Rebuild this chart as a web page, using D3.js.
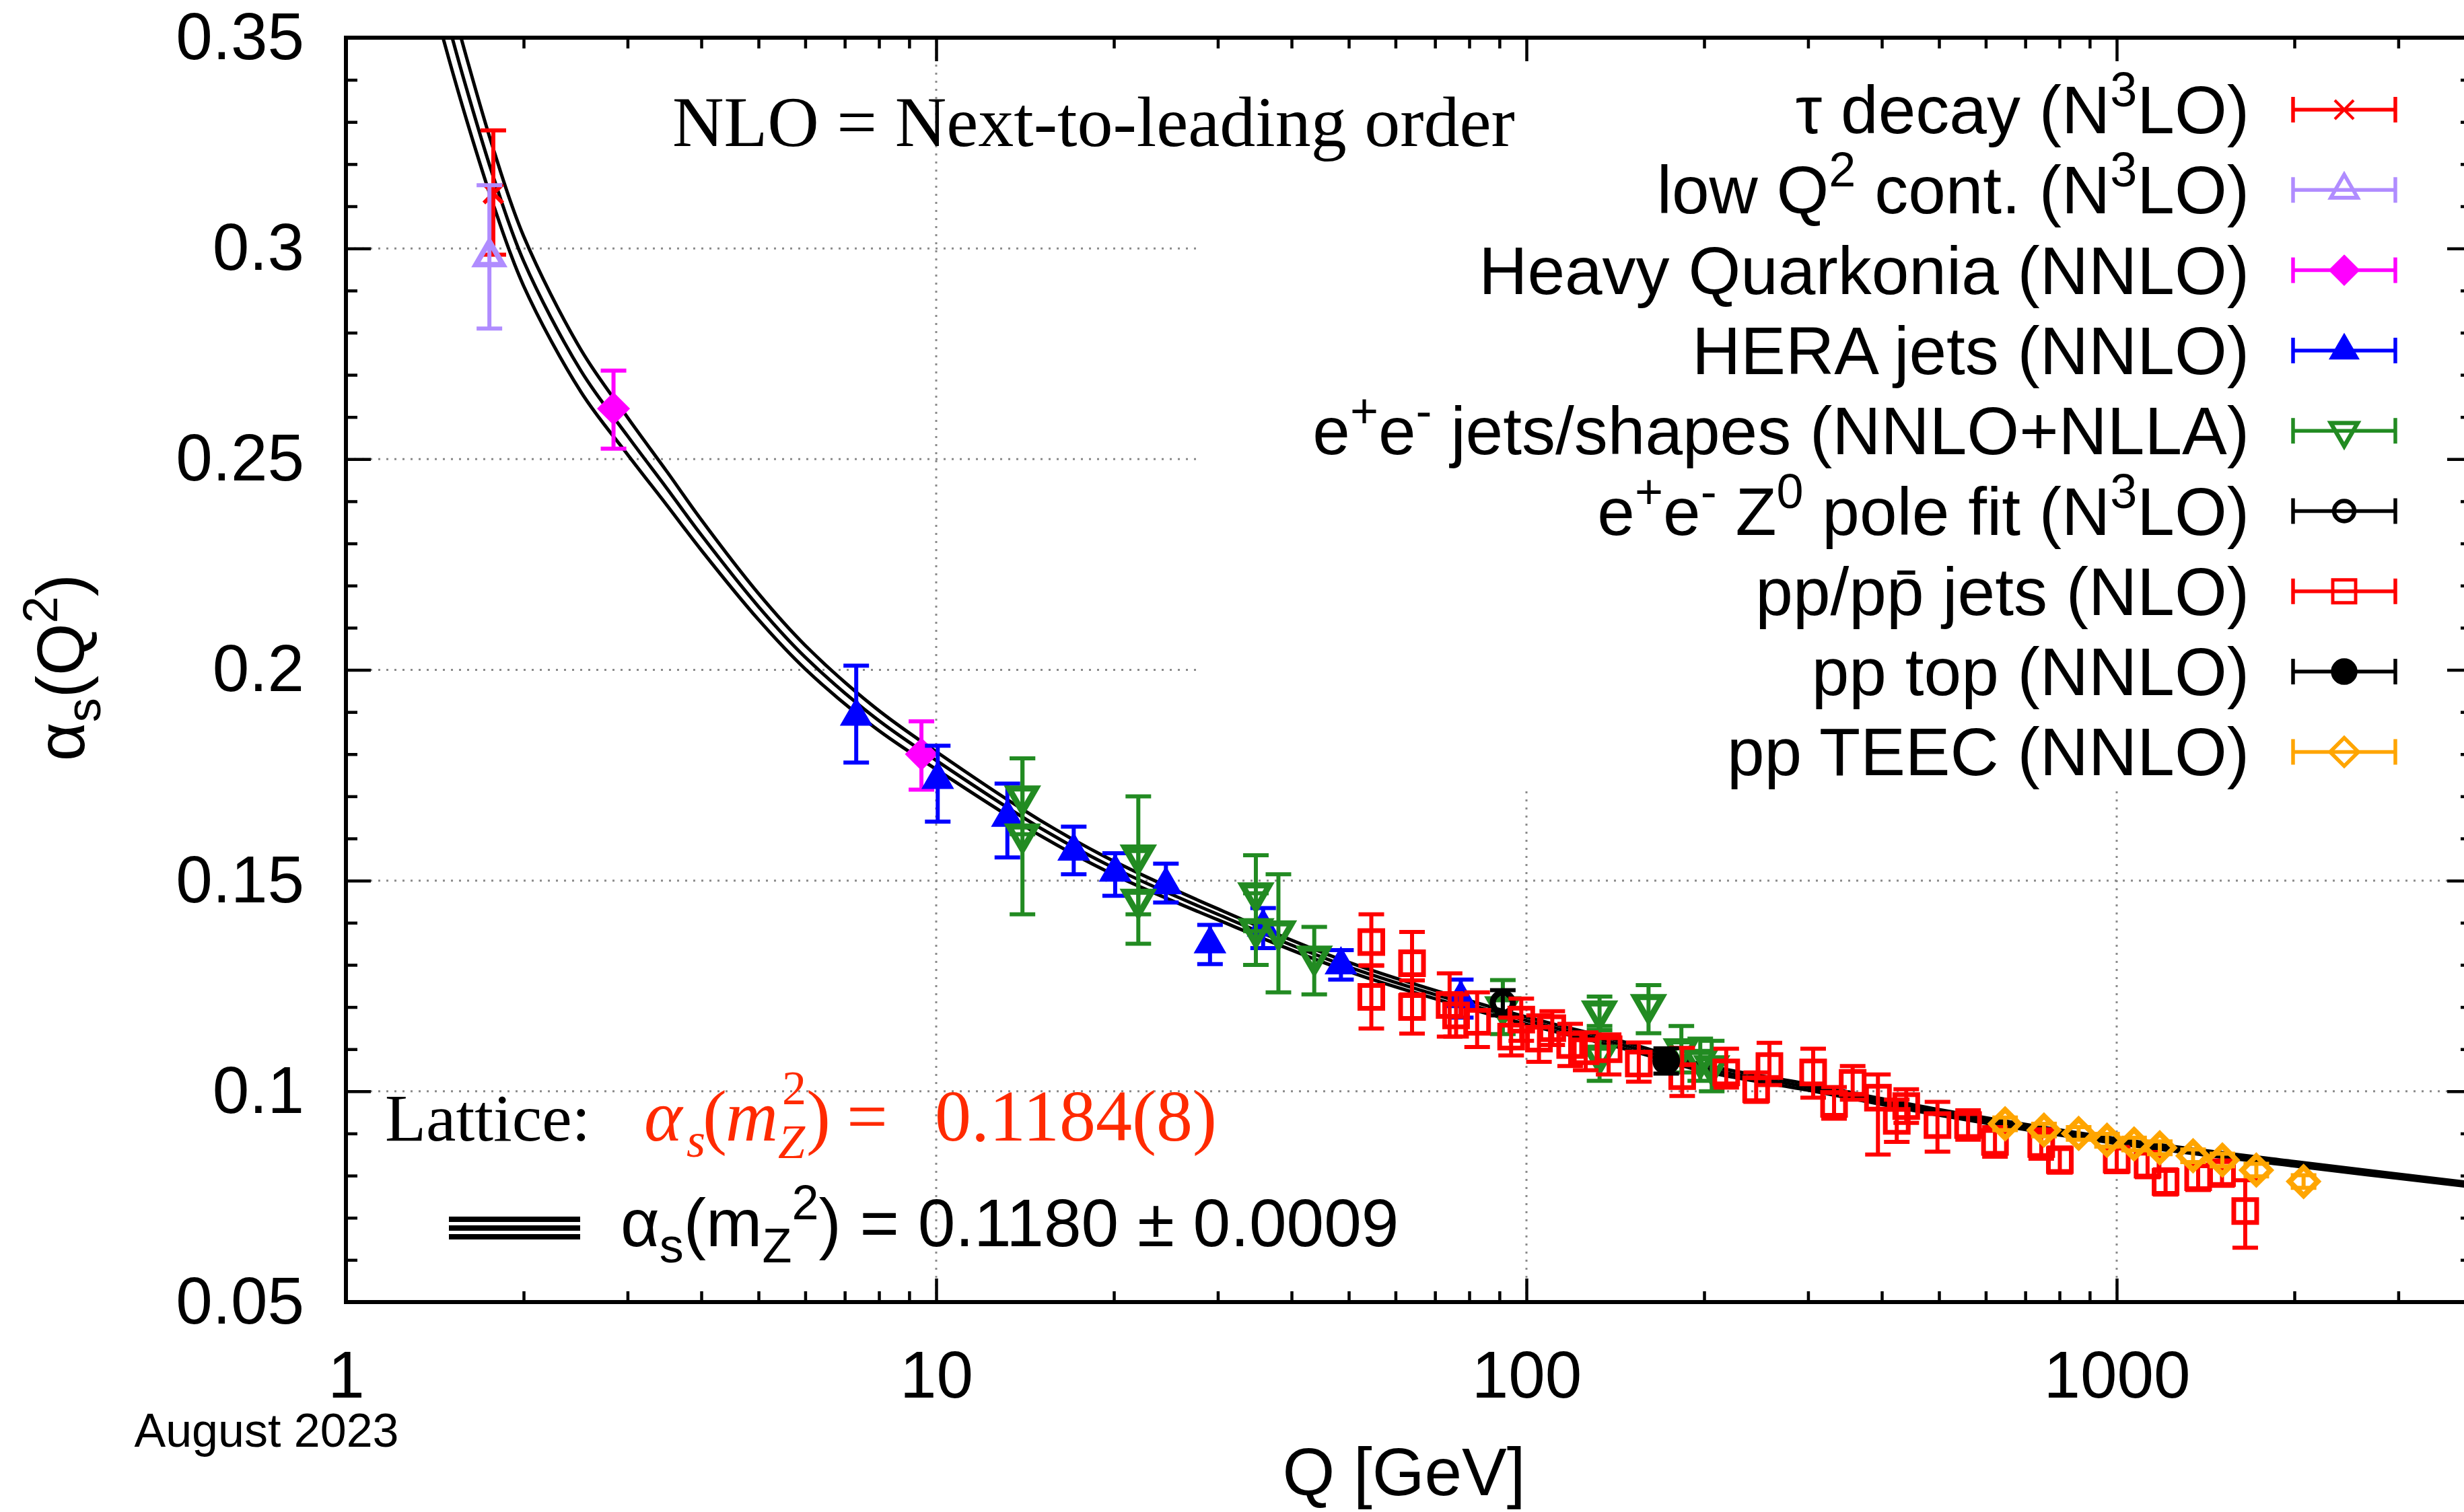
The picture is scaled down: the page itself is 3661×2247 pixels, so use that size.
<!DOCTYPE html>
<html><head><meta charset="utf-8">
<script src="https://cdn.jsdelivr.net/npm/d3@7"></script>
<style>html,body{margin:0;padding:0;background:#fff;}svg{display:block;}</style>
</head><body>
<svg id="c" width="3661" height="2247" xmlns="http://www.w3.org/2000/svg"></svg>
<script>
// ---------------- DATA ----------------
// running coupling band: Q, central alpha_s, half width
const curveQ     = [1.4, 1.5, 1.6, 1.777, 2.0, 2.5, 3.0, 3.5, 4, 5, 6, 7.87, 10, 15, 20, 30, 50, 91.19, 150, 200, 300, 500, 1000, 2000, 4000];
const curveAlpha = [0.368, 0.352, 0.338, 0.317, 0.297, 0.271, 0.2555, 0.243, 0.232, 0.215, 0.203, 0.1887, 0.1785, 0.1625, 0.153, 0.142, 0.1295, 0.1183, 0.1105, 0.1055, 0.1010, 0.0950, 0.0882, 0.0828, 0.0778];
const curveDelta = [0.0086, 0.0079, 0.0074, 0.0066, 0.0059, 0.0050, 0.0044, 0.0040, 0.0036, 0.0031, 0.0028, 0.0024, 0.0021, 0.0018, 0.0016, 0.0013, 0.0011, 0.0009, 0.0008, 0.00078, 0.00072, 0.00066, 0.00058, 0.00052, 0.00048];

// measurements: [Q, alpha_s, errDown, errUp]
const tauDecay = [[1.777, 0.313, 0.0145, 0.015]];
const lowQ2 = [[1.75, 0.298, 0.017, 0.017]];
const heavyQuarkonia = [[2.84, 0.262, 0.0095, 0.009], [9.44, 0.180, 0.0084, 0.0078]];
const heraJets = [
  [7.32, 0.189, 0.011, 0.012], [10.06, 0.174, 0.010, 0.008], [13.2, 0.165, 0.0095, 0.008],
  [17.1, 0.157, 0.0055, 0.0058], [20.1, 0.152, 0.0056, 0.0045], [24.5, 0.149, 0.0042, 0.005],
  [29.1, 0.135, 0.0048, 0.0045], [35.8, 0.139, 0.005, 0.0045], [48.5, 0.130, 0.0035, 0.0035],
  [77.4, 0.122, 0.0045, 0.0045]
];
const eeJets = [
  [14.0, 0.170, 0.009, 0.009], [14.0, 0.161, 0.019, 0.018], [22.0, 0.156, 0.014, 0.014],
  [22.0, 0.1455, 0.0105, 0.0115], [34.8, 0.147, 0.009, 0.009], [34.8, 0.1385, 0.0085, 0.0085],
  [38.0, 0.138, 0.0145, 0.0135], [43.7, 0.132, 0.009, 0.007], [91.2, 0.120, 0.0064, 0.0064],
  [133, 0.119, 0.0035, 0.0035], [133, 0.1085, 0.006, 0.006], [161, 0.1205, 0.0067, 0.0047],
  [183, 0.110, 0.0055, 0.0055], [197, 0.1075, 0.005, 0.005], [206, 0.106, 0.006, 0.006]
];
const zPole = [[91.19, 0.121, 0.003, 0.003]];
const ppJets = [
  [54.6, 0.1354, 0.0056, 0.0066], [54.6, 0.1224, 0.0075, 0.0075], [64.0, 0.1304, 0.0074, 0.0074],
  [64.0, 0.120, 0.0063, 0.0063], [74.1, 0.1205, 0.0075, 0.0075], [76, 0.118, 0.005, 0.005],
  [82.5, 0.1165, 0.006, 0.007], [94.2, 0.113, 0.0045, 0.0045], [98, 0.117, 0.005, 0.005],
  [105, 0.1125, 0.0055, 0.0055], [110.6, 0.115, 0.004, 0.004], [118.6, 0.111, 0.005, 0.005],
  [126, 0.1095, 0.0045, 0.0045], [137.8, 0.110, 0.006, 0.0035], [155, 0.1066, 0.0043, 0.005],
  [183.6, 0.1036, 0.0047, 0.0067], [218, 0.1045, 0.0036, 0.0056], [245, 0.1005, 0.003, 0.004],
  [258, 0.106, 0.0045, 0.0055], [306, 0.1045, 0.006, 0.0056], [332, 0.097, 0.0035, 0.004],
  [357, 0.102, 0.004, 0.004], [394, 0.0985, 0.0135, 0.0055], [424, 0.093, 0.005, 0.005],
  [440, 0.0965, 0.004, 0.004], [497, 0.092, 0.0063, 0.0055], [560, 0.092, 0.0035, 0.0035],
  [622, 0.088, 0.0035, 0.0035], [745, 0.0875, 0.0035, 0.0035], [801, 0.0837, 0.003, 0.003],
  [1000, 0.0838, 0.003, 0.003], [1128, 0.0826, 0.003, 0.003], [1210, 0.0785, 0.003, 0.003],
  [1374, 0.0796, 0.003, 0.003], [1508, 0.0806, 0.003, 0.003], [1651, 0.0716, 0.0087, 0.0073]
];
const ppTop = [[172.5, 0.1072, 0.003, 0.003]];
const ppTEEC = [
  [647, 0.0923, 0.0015, 0.0015], [753, 0.0908, 0.0015, 0.0015], [862, 0.0900, 0.0015, 0.0015],
  [963, 0.0884, 0.0015, 0.0015], [1070, 0.0875, 0.0015, 0.0015], [1183, 0.0866, 0.0015, 0.0015],
  [1347, 0.0847, 0.0015, 0.0015], [1510, 0.0837, 0.0015, 0.0015], [1724, 0.0813, 0.0015, 0.0015],
  [2073, 0.0786, 0.0015, 0.0015]
];

const legendLabels = [
  [["τ decay (N"], ["3", "sup"], ["LO)"]],
  [["low Q"], ["2", "sup"], [" cont. (N"], ["3", "sup"], ["LO)"]],
  [["Heavy Quarkonia (NNLO)"]],
  [["HERA jets (NNLO)"]],
  [["e"], ["+", "sup"], ["e"], ["-", "sup"], [" jets/shapes (NNLO+NLLA)"]],
  [["e"], ["+", "sup"], ["e"], ["-", "sup"], [" Z"], ["0", "sup"], [" pole fit (N"], ["3", "sup"], ["LO)"]],
  [["pp/pp\u0304 jets (NLO)"]],
  [["pp top (NNLO)"]],
  [["pp TEEC (NNLO)"]]
];

const xTicks = [1, 10, 100, 1000];
const xMinorTicks = [2,3,4,5,6,7,8,9,20,30,40,50,60,70,80,90,200,300,400,500,600,700,800,900,2000,3000,4000];
const yTicks = [0.05, 0.1, 0.15, 0.2, 0.25, 0.3, 0.35];
const yMinorTicks = [0.06,0.07,0.08,0.09,0.11,0.12,0.13,0.14,0.16,0.17,0.18,0.19,0.21,0.22,0.23,0.24,0.26,0.27,0.28,0.29,0.31,0.32,0.33,0.34];
const gridX = [10, 100, 1000];
const gridY = [0.1, 0.15, 0.2, 0.25, 0.3];

// ---------------- STYLES ----------------
const series = [
  {data: tauDecay, color: '#ff0000', marker: 'x', fill: false, sw: 6},
  {data: lowQ2, color: '#b08cff', marker: 'triUp', fill: false, sw: 8},
  {data: heavyQuarkonia, color: '#ff00ff', marker: 'diamond', fill: true, sw: 5},
  {data: heraJets, color: '#0000ff', marker: 'triUp', fill: true, sw: 5},
  {data: eeJets, color: '#228b22', marker: 'triDown', fill: false, sw: 9},
  {data: zPole, color: '#000000', marker: 'circle', fill: false, sw: 9},
  {data: ppJets, color: '#ff0000', marker: 'square', fill: false, sw: 7},
  {data: ppTop, color: '#000000', marker: 'circleBig', fill: true, sw: 5},
  {data: ppTEEC, color: '#ffa500', marker: 'diamond', fill: false, sw: 8}
];

const SANS = "'Liberation Sans', Arial, Helvetica, sans-serif";
const SERIF = "'Liberation Serif', 'Times New Roman', Times, serif";

const svg = d3.select('#c');
svg.append('rect').attr('width', 3661).attr('height', 2247).attr('fill', '#fff');

const x = d3.scaleLog().domain([1, 4000]).range([514, 3673]);
const y = d3.scaleLinear().domain([0.05, 0.35]).range([1935, 56]);
const [X0, X1] = x.range();
const [Y0, Y1] = y.range();

svg.append('clipPath').attr('id', 'plotclip').append('rect')
  .attr('x', X0).attr('y', Y1).attr('width', X1 - X0).attr('height', Y0 - Y1);

// grid
const grid = svg.append('g');
gridY.forEach(v => grid.append('line').attr('x1', X0).attr('x2', X1).attr('y1', y(v)).attr('y2', y(v)));
gridX.forEach(v => grid.append('line').attr('x1', x(v)).attr('x2', x(v)).attr('y1', Y0).attr('y2', Y1));
grid.selectAll('line').attr('stroke', '#8a8a8a').attr('stroke-width', 3).attr('stroke-dasharray', '3 9');

// opaque key box
svg.append('rect').attr('x', 1785).attr('y', 70).attr('width', 1900).attr('height', 1105).attr('fill', '#fff');

const plot = svg.append('g').attr('clip-path', 'url(#plotclip)');

// band
const band = curveQ.map((q, i) => ({q, a: curveAlpha[i], d: curveDelta[i]}));
[-1, 0, 1].forEach(k => {
  const ln = d3.line().x(p => x(p.q)).y(p => y(p.a + k * p.d)).curve(d3.curveCatmullRom.alpha(0.5));
  plot.append('path').attr('d', ln(band)).attr('fill', 'none').attr('stroke', '#000').attr('stroke-width', 5);
});

function markerPath(type) {
  switch (type) {
    case 'x': { const s = 14; return `M${-s},${-s}L${s},${s}M${-s},${s}L${s},${-s}`; }
    case 'triUp': { const s = 20; return `M0,${-s * 1.15}L${s},${s * 0.58}L${-s},${s * 0.58}Z`; }
    case 'triDown': { const s = 20; return `M0,${s * 1.15}L${s},${-s * 0.58}L${-s},${-s * 0.58}Z`; }
    case 'diamond': { const s = 21; return `M0,${-s}L${s},0L0,${s}L${-s},0Z`; }
    case 'square': { const s = 17; return `M${-s},${-s}H${s}V${s}H${-s}Z`; }
    case 'circle': { const p = d3.path(); p.arc(0, 0, 15, 0, 2 * Math.PI); p.closePath(); return p.toString(); }
    case 'circleBig': { const p = d3.path(); p.arc(0, 0, 18, 0, 2 * Math.PI); p.closePath(); return p.toString(); }
  }
}

function drawMarker(g, cx, cy, st, swScale) {
  g.append('path').attr('d', markerPath(st.marker)).attr('transform', `translate(${cx},${cy})`)
    .attr('fill', st.fill ? st.color : 'none').attr('stroke', st.color).attr('stroke-width', st.sw * (swScale || 1))
    .attr('stroke-linejoin', 'miter');
}

const dataG = plot.append('g');
series.forEach(st => {
  const g = dataG.append('g');
  st.data.forEach(([q, a, lo, hi]) => {
    const cx = x(q), yl = y(a - lo), yh = y(a + hi), cw = 19;
    g.append('line').attr('x1', cx).attr('x2', cx).attr('y1', yl).attr('y2', yh);
    g.append('line').attr('x1', cx - cw).attr('x2', cx + cw).attr('y1', yl).attr('y2', yl);
    g.append('line').attr('x1', cx - cw).attr('x2', cx + cw).attr('y1', yh).attr('y2', yh);
    g.selectAll('line').attr('stroke', st.color).attr('stroke-width', 6);
    drawMarker(g, cx, y(a), st);
  });
});

// axes
function styleAxis(g, fs) {
  g.select('.domain').remove();
  g.selectAll('.tick line').attr('stroke', '#000').attr('stroke-width', 4.5);
  g.selectAll('.tick text').attr('font-family', SANS).attr('font-size', fs).attr('fill', '#000');
}
const ax = svg.append('g');
styleAxis(ax.append('g').attr('transform', `translate(0,${Y0})`)
  .call(d3.axisBottom(x).tickValues(xTicks).tickFormat(d3.format('d')).tickSize(-35).tickPadding(72)), 98);
styleAxis(ax.append('g').attr('transform', `translate(0,${Y0})`)
  .call(d3.axisBottom(x).tickValues(xMinorTicks).tickFormat('').tickSize(-16)), 98);
styleAxis(ax.append('g').attr('transform', `translate(0,${Y1})`)
  .call(d3.axisTop(x).tickValues(xTicks).tickFormat('').tickSize(-35)), 98);
styleAxis(ax.append('g').attr('transform', `translate(0,${Y1})`)
  .call(d3.axisTop(x).tickValues(xMinorTicks).tickFormat('').tickSize(-16)), 98);
styleAxis(ax.append('g').attr('transform', `translate(${X0},0)`)
  .call(d3.axisLeft(y).tickValues(yTicks).tickFormat(d => String(d)).tickSize(-37).tickPadding(62)), 98);
styleAxis(ax.append('g').attr('transform', `translate(${X0},0)`)
  .call(d3.axisLeft(y).tickValues(yMinorTicks).tickFormat('').tickSize(-17)), 98);
styleAxis(ax.append('g').attr('transform', `translate(${X1},0)`)
  .call(d3.axisRight(y).tickValues(yTicks).tickFormat('').tickSize(-37)), 98);
styleAxis(ax.append('g').attr('transform', `translate(${X1},0)`)
  .call(d3.axisRight(y).tickValues(yMinorTicks).tickFormat('').tickSize(-17)), 98);

svg.append('rect').attr('x', X0).attr('y', Y1).attr('width', X1 - X0).attr('height', Y0 - Y1)
  .attr('fill', 'none').attr('stroke', '#000').attr('stroke-width', 6);

// rich text helper
function rich(t, segs, fs) {
  let off = 0;
  segs.forEach(([txt, kind]) => {
    const target = kind === 'sup' ? -0.40 * fs : kind === 'sub' ? 0.24 * fs : 0;
    t.append('tspan').text(txt).attr('dy', target - off).attr('font-size', kind ? fs * 0.72 : fs);
    off = target;
  });
}

// axis titles
const yl = svg.append('text').attr('transform', 'translate(125,992) rotate(-90)')
  .attr('text-anchor', 'middle').attr('font-family', SANS).attr('font-size', 100).attr('fill', '#000');
rich(yl, [["α"], ["s", "sub"], ["(Q"], ["2", "sup"], [")"]], 100);

svg.append('text').attr('x', 2086).attr('y', 2222).attr('text-anchor', 'middle')
  .attr('font-family', SANS).attr('font-size', 100).text('Q [GeV]');
svg.append('text').attr('x', 396).attr('y', 2150).attr('text-anchor', 'middle')
  .attr('font-family', SANS).attr('font-size', 70).text('August 2023');

// legend
const legend = svg.append('g');
legendLabels.forEach((segs, i) => {
  const cy = 163 + i * 119.3;
  const t = legend.append('text').attr('x', 3342).attr('y', cy + 35).attr('text-anchor', 'end')
    .attr('font-family', SANS).attr('font-size', 100).attr('fill', '#000');
  rich(t, segs, 100);
  const st = series[i];
  const g = legend.append('g');
  g.append('line').attr('x1', 3407).attr('x2', 3559).attr('y1', cy).attr('y2', cy);
  g.append('line').attr('x1', 3407).attr('x2', 3407).attr('y1', cy - 19).attr('y2', cy + 19);
  g.append('line').attr('x1', 3559).attr('x2', 3559).attr('y1', cy - 19).attr('y2', cy + 19);
  g.selectAll('line').attr('stroke', st.color).attr('stroke-width', 5.5);
  drawMarker(g, 3483, cy, st, 0.7);
});

// band legend
[-13, 0, 13].forEach(o => svg.append('line').attr('x1', 667).attr('x2', 862)
  .attr('y1', 1825 + o).attr('y2', 1825 + o).attr('stroke', '#000').attr('stroke-width', 8));
const bl = svg.append('text').attr('x', 922).attr('y', 1852).attr('font-family', SANS).attr('font-size', 100);
rich(bl, [["α"], ["s", "sub"], ["(m"], ["Z", "sub"], ["2", "sup"], [") = 0.1180 ± 0.0009"]], 100);

// annotations
svg.append('text').attr('x', 999).attr('y', 217).attr('font-family', SERIF).attr('font-size', 106)
  .attr('fill', '#000').text('NLO = Next-to-leading order');
svg.append('text').attr('x', 572).attr('y', 1695).attr('font-family', SERIF).attr('font-size', 100)
  .attr('fill', '#000').text('Lattice:');
const red = svg.append('text').attr('font-family', SERIF).attr('fill', '#ff2a00');
const redParts = [
  {t: 'α', x: 957, y: 1695, fs: 108, it: true},
  {t: 's', x: 1020, y: 1719, fs: 72, it: true},
  {t: '(', x: 1044, y: 1695, fs: 108, it: false},
  {t: 'm', x: 1078, y: 1695, fs: 108, it: true},
  {t: '2', x: 1162, y: 1641, fs: 72, it: false},
  {t: 'Z', x: 1156, y: 1721, fs: 72, it: true},
  {t: ')', x: 1198, y: 1695, fs: 108, it: false},
  {t: '=', x: 1258, y: 1695, fs: 108, it: false},
  {t: '0.1184(8)', x: 1389, y: 1695, fs: 108, it: false}
];
redParts.forEach(p => red.append('tspan').attr('x', p.x).attr('y', p.y).attr('font-size', p.fs)
  .attr('font-style', p.it ? 'italic' : 'normal').text(p.t));
</script>
</body></html>
